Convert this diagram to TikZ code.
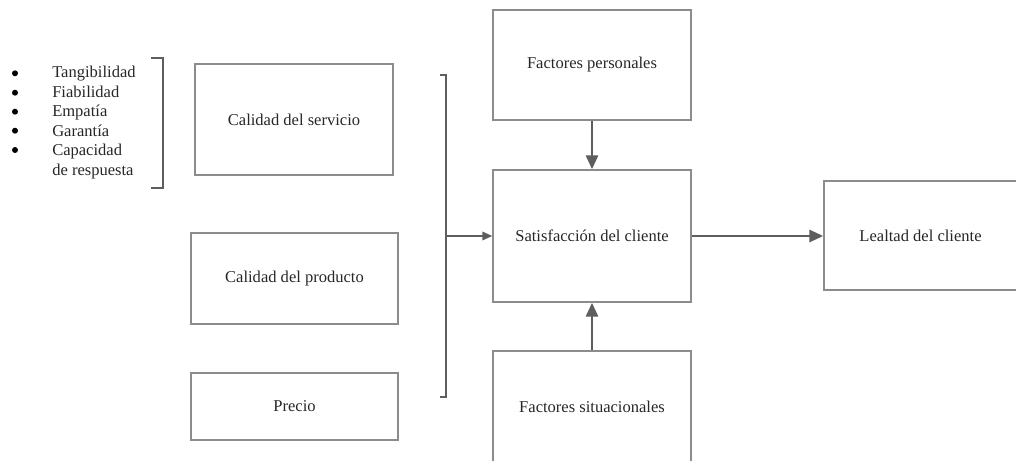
\documentclass[tikz,border=0pt]{standalone}
\usepackage{fontspec}
\setmainfont{Liberation Serif}
\usetikzlibrary{arrows.meta}
\definecolor{boxline}{HTML}{8C8C8C}
\definecolor{arrowc}{HTML}{5E5E5E}
\definecolor{txt}{HTML}{262626}
\tikzset{
  box/.style={draw=boxline, line width=1.1pt, inner sep=0pt, text=txt,
    font=\rmfamily\fontsize{12.4}{14.6}\selectfont},
  listitem/.style={anchor=base west, inner sep=0pt, text=txt,
    font=\rmfamily\fontsize{12.4}{14.6}\selectfont},
  bul/.style={circle, fill=black, inner sep=0pt, minimum size=4.5pt},
  brk/.style={draw=arrowc, line width=1.6pt},
  bigarr/.style={draw=arrowc, line width=2.2pt, -{Triangle[length=10.5pt,width=9pt]}},
  thinarr/.style={draw=arrowc, line width=1.1pt, -{Triangle[length=7.5pt,width=6.5pt]}}
}
\begin{document}
\begin{tikzpicture}[x=0.75pt,y=-0.75pt]
\useasboundingbox (0,0) rectangle (1016,460);
% left list
\node[bul] (b1) at (15,73.3) {};
\node[bul] (b2) at (15,92.7) {};
\node[bul] (b3) at (15,111.7) {};
\node[bul] (b4) at (15,130.7) {};
\node[bul] (b5) at (15,150) {};
\node[listitem] (t1) at (52,78) {Tangibilidad};
\node[listitem] (t2) at (52,97.4) {Fiabilidad};
\node[listitem] (t3) at (52,116.8) {Empatía};
\node[listitem] (t4) at (52,136.2) {Garantía};
\node[listitem] (t5) at (52,155.6) {Capacidad};
\node[listitem] (t6) at (52,175) {de respuesta};
\draw[brk] (151,58) -- (163,58) -- (163,188) -- (151,188);
% boxes
\node[box, minimum width={198*0.75pt}, minimum height={111*0.75pt}] (serv) at (294,119.5) {Calidad del servicio};
\node[box, minimum width={207*0.75pt}, minimum height={91*0.75pt}] (prod) at (294.5,278.5) {Calidad del producto};
\node[box, minimum width={207*0.75pt}, minimum height={67*0.75pt}] (prec) at (294.5,406.5) {Precio};
\node[box, minimum width={198*0.75pt}, minimum height={110*0.75pt}] (pers) at (592,65) {Factores personales};
\node[box, minimum width={198*0.75pt}, minimum height={132*0.75pt}] (sat) at (592,236) {Satisfacción del cliente};
\node[box, minimum width={198*0.75pt}, minimum height={112*0.75pt}] (sit) at (592,407) {Factores situacionales};
\node[box, minimum width={193*0.75pt}, minimum height={109*0.75pt}] (leal) at (920.5,235.5) {Lealtad del cliente};
% right bracket
\draw[brk] (440,75) -- (446,75) -- (446,397) -- (440,397);
\coordinate (bk) at (446,236);
% arrows
\draw[thinarr] (bk) -- (sat.west);
\draw[bigarr] (pers.south) -- (sat.north);
\draw[bigarr] (sit.north) -- (sat.south);
\draw[bigarr] (sat.east) -- (sat.east -| leal.west);
\end{tikzpicture}
\end{document}
